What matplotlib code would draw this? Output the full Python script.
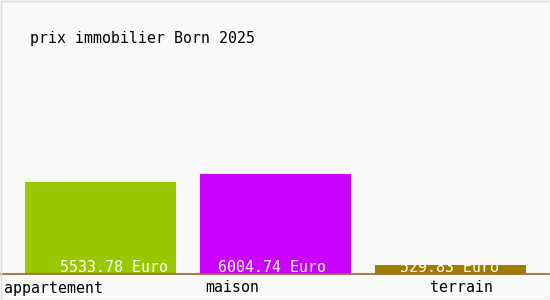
import matplotlib
matplotlib.use("Agg")
import matplotlib.pyplot as plt
from matplotlib.patches import Rectangle

# data
categories = ["appartement", "maison", "terrain"]
prices = [5533.78, 6004.74, 529.83]
bar_colors = ["#99c800", "#cc00ff", "#a07c00"]
title = "prix immobilier Born 2025"

W, H = 550, 300
fig = plt.figure(figsize=(W / 100, H / 100), dpi=100)
fig.patch.set_facecolor("#f9f9f9")

# thin grey frame around the picture
fig.add_artist(Rectangle((0.5 / W, 0.5 / H), 1 - 1 / W, 1 - 1 / H,
                         transform=fig.transFigure, fill=False,
                         edgecolor="#dddddd", linewidth=1))

# axes: bottom at y=274 px, 200 px tall, full width
ax = fig.add_axes([0, 26 / H, 1, 200 / H])
ax.set_facecolor("none")
for s in ax.spines.values():
    s.set_visible(False)
ax.set_xticks([])
ax.set_yticks([])

x = list(range(len(categories)))
ax.bar(x, prices, width=151 / 175, color=bar_colors, align="center")
ax.set_xlim(-100.5 / 175, (W - 100.5) / 175)
ax.set_ylim(0, max(prices) * 2)

# baseline
ax.axhline(0, color="#a0622d", linewidth=1.2, clip_on=False)

mono = "DejaVu Sans Mono"
fs = 10.7

# value labels (white, sitting at the bottom of each bar)
val_offsets = [13, -3, -1]
for i, v in enumerate(prices):
    ax.annotate(f"{v:.2f} Euro", xy=(i, 0), xytext=(val_offsets[i], 6),
                textcoords="offset pixels", ha="center", va="center",
                color="white", fontsize=fs, family=mono)

# category labels below the baseline
lab_offsets = [-47, -43, 11]
for i, c in enumerate(categories):
    ax.annotate(c, xy=(i, 0), xytext=(lab_offsets[i], -14),
                textcoords="offset pixels", ha="center", va="center",
                color="black", fontsize=fs, family=mono, annotation_clip=False)

fig.text(30 / W, 1 - 39 / H, title, ha="left", va="center",
         fontsize=fs, family=mono, color="black")

fig.savefig("out.png", dpi=100, facecolor=fig.get_facecolor())
